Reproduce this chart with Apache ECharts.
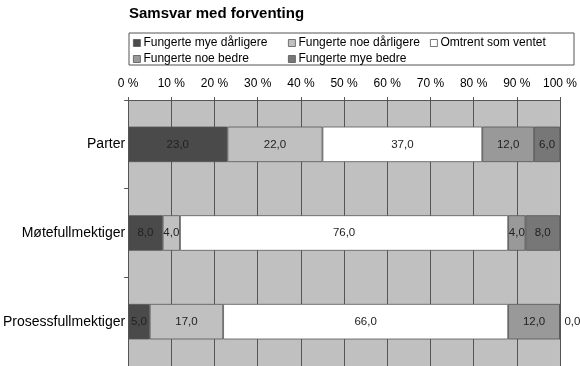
<!DOCTYPE html>
<html>
<head>
<meta charset="utf-8">
<script src="https://cdn.jsdelivr.net/npm/echarts@6/dist/echarts.min.js"></script>
<style>html,body{margin:0;padding:0;background:#fff}#c{width:580px;height:366px}</style>
</head>
<body>
<div id="c"></div>
<script>
const categories = ['Parter', 'Møtefullmektiger', 'Prosessfullmektiger'];
const seriesNames = ['Fungerte mye dårligere', 'Fungerte noe dårligere', 'Omtrent som ventet', 'Fungerte noe bedre', 'Fungerte mye bedre'];
const myeDarligere = [23.0, 8.0, 5.0];
const noeDarligere = [22.0, 4.0, 17.0];
const omtrent = [37.0, 76.0, 66.0];
const noeBedre = [12.0, 4.0, 12.0];
const myeBedre = [6.0, 8.0, 0.0];
const tickValues = [0, 10, 20, 30, 40, 50, 60, 70, 80, 90, 100];

const values = [myeDarligere, noeDarligere, omtrent, noeBedre, myeBedre];
const colors = ['#4a4a4a', '#c0c0c0', '#ffffff', '#999999', '#777777'];
const fmt = v => v.toFixed(1).replace('.', ',');
const font = 'Liberation Sans, Arial, sans-serif';

const chart = echarts.init(document.getElementById('c'), null, {renderer: 'canvas'});

const series = seriesNames.map((name, i) => ({
  name: name,
  type: 'bar',
  stack: 'total',
  barWidth: '40%',
  itemStyle: {color: colors[i], borderColor: '#555', borderWidth: 0.8},
  label: {
    show: true, position: 'inside', color: '#222', fontSize: 11.5, fontFamily: font,
    formatter: p => fmt(p.value)
  },
  emphasis: {disabled: true},
  data: values[i].map(v => v === 0 ? {value: v, label: {position: 'right', distance: 4}} : v)
}));

const legendCommon = {
  orient: 'vertical', itemWidth: 7, itemHeight: 7, itemGap: 4,
  icon: 'rect', selectedMode: false,
  textStyle: {fontSize: 12, fontFamily: font, color: '#000', padding: [0, 0, 0, -2]},
  itemStyle: {borderColor: '#555', borderWidth: 0.8},
  padding: 0
};

chart.setOption({
  animation: false,
  title: {
    text: 'Samsvar med forventing', left: 124, top: 1,
    textStyle: {fontSize: 15, fontWeight: 'bold', fontFamily: font, color: '#000'}
  },
  legend: [
    Object.assign({}, legendCommon, {left: 133, top: 37, data: [seriesNames[0], seriesNames[3]]}),
    Object.assign({}, legendCommon, {left: 288, top: 37, data: [seriesNames[1], seriesNames[4]]}),
    Object.assign({}, legendCommon, {left: 430, top: 37, data: [seriesNames[2]]})
  ],
  graphic: [{
    type: 'rect', left: 126.5, top: 30.5,
    shape: {width: 445, height: 32},
    style: {fill: 'none', stroke: '#555', lineWidth: 1}, silent: true
  }],
  grid: {left: 127, right: 18, top: 100, bottom: 0, show: true, backgroundColor: '#c0c0c0', borderWidth: 0},
  xAxis: {
    type: 'value', position: 'top', min: tickValues[0], max: tickValues[tickValues.length - 1], interval: 10,
    axisLine: {show: true, lineStyle: {color: '#555', width: 1}},
    axisTick: {show: true, length: 3, lineStyle: {color: '#555'}},
    splitLine: {show: true, lineStyle: {color: '#555', width: 1}},
    axisLabel: {formatter: '{value} %', fontSize: 12, fontFamily: font, color: '#000', margin: 10}
  },
  yAxis: {
    type: 'category', inverse: true, data: categories,
    axisLine: {show: true, lineStyle: {color: '#555', width: 1}},
    axisTick: {show: true, length: 4, lineStyle: {color: '#555'}},
    axisLabel: {fontSize: 14, fontFamily: font, color: '#000', margin: 3}
  },
  series: series
});
</script>
</body>
</html>
